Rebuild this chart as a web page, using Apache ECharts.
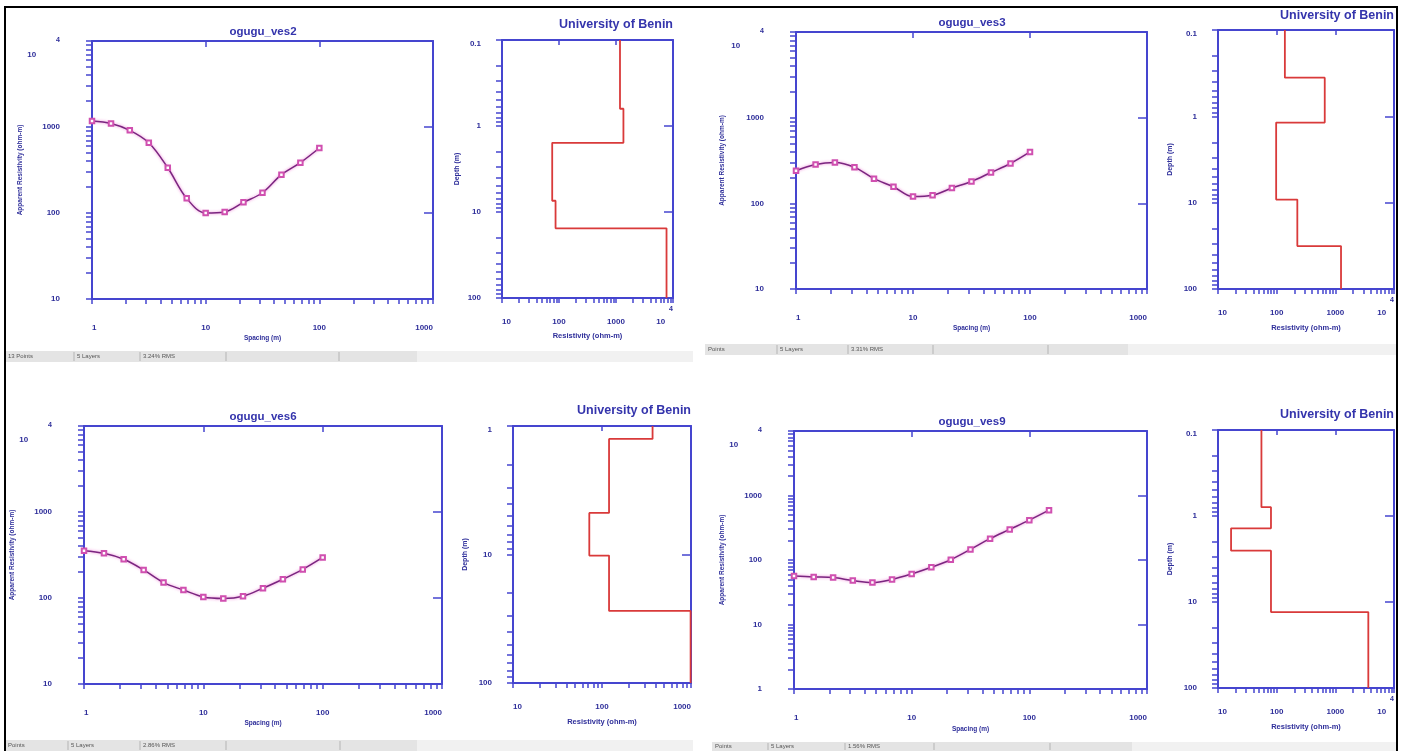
<!DOCTYPE html>
<html>
<head>
<meta charset="utf-8">
<script src="https://cdn.jsdelivr.net/npm/echarts@6/dist/echarts.min.js"></script>
<style>
  html, body { margin: 0; padding: 0; background: #fff; }
  #chart { width: 1405px; height: 751px; }
</style>
</head>
<body>
<div id="chart"></div>
<script>
// electrode spacing AB/2 (m)
const spacing = [1, 1.47, 2.15, 3.16, 4.64, 6.81, 10, 14.7, 21.5, 31.6, 46.4, 68.1, 100];
const spacingVes9 = [1, 1.47, 2.15, 3.16, 4.64, 6.81, 10, 14.7, 21.5, 31.6, 46.4, 68.1, 100, 147];

// apparent resistivity (ohm-m)
const ves2Apparent = [1175, 1100, 915, 656, 336, 148, 100, 103, 133, 172, 279, 385, 570];
const ves3Apparent = [240, 284, 300, 264, 194, 156, 120, 124, 151, 180, 229, 292, 398];
const ves6Apparent = [355, 331, 282, 212, 151, 124, 103, 99, 105, 130, 165, 215, 296];
const ves9Apparent = [56.6, 54.6, 53.4, 47.9, 44.6, 50, 60.8, 77, 101, 146, 214, 298, 415, 593];

// layered models: resistivity of each layer, depth to bottom of each layer (m)
const ves2LayerRho = [1175, 1350, 76, 87, 7700];
const ves2LayerDepth = [0.63, 1.57, 7.4, 15.5];
const ves3LayerRho = [138, 660, 98, 225, 1250];
const ves3LayerDepth = [0.357, 1.18, 9.2, 31.8];
const ves6LayerRho = [370, 120, 72, 120, 990];
const ves6LayerDepth = [1.26, 4.75, 10.2, 27.5];
const ves9LayerRho = [55, 80, 16.7, 80, 3650];
const ves9LayerDepth = [0.79, 1.39, 2.53, 13.1];

const stationNames = ['ogugu_ves2', 'ogugu_ves3', 'ogugu_ves6', 'ogugu_ves9'];
const pointsText = ['13 Points', 'Points', 'Points', 'Points'];
const layersText = ['5 Layers', '5 Layers', '5 Layers', '5 Layers'];
const rmsText = ['3.24% RMS', '3.31% RMS', '2.86% RMS', '1.56% RMS'];

const AX = '#4545cf';
const TXT = '#2e2e9a';
const FONT = '"Liberation Sans", Arial, sans-serif';

// layout of each panel (pixels)
const panels = [
  { x: spacing, y: ves2Apparent, rho: ves2LayerRho, depth: ves2LayerDepth,
    s: { left: 92, top: 41, width: 341, height: 258, yMin: 10, yMax: 10000, titleX: 263, titleY: 32, gapY: 67, gapX: 36 },
    m: { left: 502, top: 40, width: 171, height: 258, xMin: 10, xMax: 10000, yMin: 0.1, yMax: 100, titleY: 25, gapY: 41, gapX: 34 },
    bar: { x: 5, y: 351, w: 688, h: 11, dark: 412, divs: [74, 140, 226, 339] } },
  { x: spacing, y: ves3Apparent, rho: ves3LayerRho, depth: ves3LayerDepth,
    s: { left: 796, top: 32, width: 351, height: 257, yMin: 10, yMax: 10000, titleX: 972, titleY: 23, gapY: 70, gapX: 36 },
    m: { left: 1218, top: 30, width: 176, height: 259, xMin: 10, xMax: 10000, yMin: 0.1, yMax: 100, titleY: 16, gapY: 44, gapX: 35 },
    bar: { x: 705, y: 344, w: 691, h: 11, dark: 423, divs: [777, 848, 933, 1048] } },
  { x: spacing, y: ves6Apparent, rho: ves6LayerRho, depth: ves6LayerDepth,
    s: { left: 84, top: 426, width: 358, height: 258, yMin: 10, yMax: 10000, titleX: 263, titleY: 417, gapY: 61, gapX: 36 },
    m: { left: 513, top: 426, width: 178, height: 257, xMin: 10, xMax: 1000, yMin: 1, yMax: 100, titleY: 411, gapY: 44, gapX: 35 },
    bar: { x: 5, y: 740, w: 688, h: 11, dark: 412, divs: [68, 140, 226, 340] } },
  { x: spacingVes9, y: ves9Apparent, rho: ves9LayerRho, depth: ves9LayerDepth,
    s: { left: 794, top: 431, width: 353, height: 258, yMin: 1, yMax: 10000, titleX: 972, titleY: 422, gapY: 68, gapX: 37 },
    m: { left: 1218, top: 430, width: 176, height: 258, xMin: 10, xMax: 10000, yMin: 0.1, yMax: 100, titleY: 415, gapY: 44, gapX: 35 },
    bar: { x: 712, y: 742, w: 684, h: 9, dark: 420, divs: [768, 845, 934, 1050] } }
];

// log tick positions 1..9 per decade
function logTicks(min, max) {
  const out = [];
  for (let p = Math.round(Math.log10(min)); p < Math.round(Math.log10(max)); p++) {
    for (let k = 1; k < 10; k++) out.push(+(k * Math.pow(10, p)).toPrecision(6));
  }
  out.push(max);
  return out;
}

function stepData(rho, depth, top, bottom) {
  const bounds = [top].concat(depth, [bottom]);
  const pts = [];
  rho.forEach((r, i) => {
    pts.push([r, bounds[i]]);
    pts.push([r, bounds[i + 1]]);
  });
  return pts;
}

const lbl = { color: TXT, fontSize: 8, fontWeight: 'bold', fontFamily: FONT };
const nameStyle = (size) => ({ color: TXT, fontSize: size, fontWeight: 'bold', fontFamily: FONT });
const line = { lineStyle: { color: AX, width: 2 }, onZero: false };

const grid = [], xAxis = [], yAxis = [], series = [], title = [], graphic = [];

panels.forEach((p, i) => {
  const gs = grid.length;
  grid.push({ left: p.s.left, top: p.s.top, width: p.s.width, height: p.s.height, outerBoundsMode: 'none' });
  grid.push({ left: p.m.left, top: p.m.top, width: p.m.width, height: p.m.height, outerBoundsMode: 'none' });
  const gm = gs + 1;

  // ---- sounding curve ----
  const xs = xAxis.length, ys = yAxis.length;
  xAxis.push({
    type: 'log', gridIndex: gs, min: 1, max: 1000, position: 'bottom',
    axisLine: line, splitLine: { show: false },
    axisTick: { customValues: logTicks(1, 1000), length: 5, lineStyle: { color: AX, width: 1.5 } },
    axisLabel: Object.assign({ margin: 25, formatter: v => String(v), alignMinLabel: 'left', alignMaxLabel: 'right' }, lbl),
    name: 'Spacing (m)', nameLocation: 'middle', nameGap: p.s.gapX, nameTextStyle: nameStyle(6.5)
  });
  xAxis.push({
    type: 'log', gridIndex: gs, min: 1, max: 1000, position: 'top',
    axisLine: line, splitLine: { show: false }, axisLabel: { show: false },
    axisTick: { inside: true, length: 6, lineStyle: { color: AX, width: 1.5 } }
  });
  const yMax = p.s.yMax;
  yAxis.push({
    type: 'log', gridIndex: gs, min: p.s.yMin, max: yMax, position: 'left',
    axisLine: line, splitLine: { show: false },
    axisTick: { customValues: logTicks(p.s.yMin, yMax), length: 6, lineStyle: { color: AX, width: 1.5 } },
    axisLabel: Object.assign({
      margin: 32,
      formatter: v => v >= 10000 ? '{m|10}{g|}{s|4}' : '{n|' + v + '}',
      rich: {
        n: Object.assign({}, lbl),
        m: Object.assign({ padding: [28, 0, 0, 0] }, lbl),
        g: { width: 20 },
        s: Object.assign({ padding: [14, 0, 0, 0], verticalAlign: 'top' }, lbl, { fontSize: 7 })
      }
    }, lbl),
    name: 'Apparent Resistivity (ohm-m)', nameLocation: 'middle', nameGap: p.s.gapY, nameTextStyle: nameStyle(6.5)
  });
  yAxis.push({
    type: 'log', gridIndex: gs, min: p.s.yMin, max: yMax, position: 'right',
    axisLine: line, splitLine: { show: false }, axisLabel: { show: false },
    axisTick: { inside: true, length: 9, lineStyle: { color: AX, width: 1.5 } }
  });
  series.push({
    type: 'line', xAxisIndex: xs, yAxisIndex: ys,
    data: p.x.map((v, k) => [v, p.y[k]]),
    smooth: 0.35, symbol: 'emptyRect', symbolSize: 4.5, showSymbol: true,
    lineStyle: { color: '#7a2680', width: 1.5, shadowColor: 'rgba(235,90,200,0.8)', shadowBlur: 3 },
    itemStyle: { color: '#d050b0', borderColor: '#c4489c', borderWidth: 1 },
    silent: true, animation: false
  });
  title.push({
    text: stationNames[i], left: p.s.titleX, top: p.s.titleY, padding: 0,
    textAlign: 'center', textVerticalAlign: 'middle',
    textStyle: { color: '#3434ac', fontSize: 11.5, fontWeight: 'bold', fontFamily: FONT }
  });

  // ---- layered model ----
  const xm = xAxis.length, ym = yAxis.length;
  xAxis.push({
    type: 'log', gridIndex: gm, min: p.m.xMin, max: p.m.xMax, position: 'bottom',
    axisLine: line, splitLine: { show: false },
    axisTick: { customValues: logTicks(p.m.xMin, p.m.xMax), length: 5, lineStyle: { color: AX, width: 1.5 } },
    axisLabel: Object.assign({
      margin: 8, alignMinLabel: 'left', alignMaxLabel: 'right',
      formatter: v => v >= 10000 ? '{n|10}{s|4}' : '{n|' + v + '}',
      rich: {
        n: Object.assign({ padding: [12, 0, 0, 0] }, lbl),
        s: Object.assign({ verticalAlign: 'top', padding: [0, 0, 0, 4] }, lbl, { fontSize: 7 })
      }
    }, lbl),
    name: 'Resistivity (ohm-m)', nameLocation: 'middle', nameGap: p.m.gapX, nameTextStyle: nameStyle(7.5)
  });
  xAxis.push({
    type: 'log', gridIndex: gm, min: p.m.xMin, max: p.m.xMax, position: 'top',
    axisLine: line, splitLine: { show: false }, axisLabel: { show: false },
    axisTick: { inside: true, length: 5, lineStyle: { color: AX, width: 1.5 } }
  });
  yAxis.push({
    type: 'log', gridIndex: gm, min: p.m.yMin, max: p.m.yMax, inverse: true, position: 'left',
    axisLine: line, splitLine: { show: false },
    axisTick: { customValues: logTicks(p.m.yMin, p.m.yMax), length: 6, lineStyle: { color: AX, width: 1.5 } },
    axisLabel: Object.assign({ margin: 21, formatter: v => String(v), verticalAlignMinLabel: 'top' }, lbl),
    name: 'Depth (m)', nameLocation: 'middle', nameGap: p.m.gapY, nameTextStyle: nameStyle(7)
  });
  yAxis.push({
    type: 'log', gridIndex: gm, min: p.m.yMin, max: p.m.yMax, inverse: true, position: 'right',
    axisLine: line, splitLine: { show: false }, axisLabel: { show: false },
    axisTick: { inside: true, length: 9, lineStyle: { color: AX, width: 1.5 } }
  });
  series.push({
    type: 'line', xAxisIndex: xm, yAxisIndex: ym,
    data: stepData(p.rho, p.depth, p.m.yMin, p.m.yMax),
    symbol: 'none', lineStyle: { color: '#d93a3a', width: 1.8 },
    silent: true, animation: false
  });
  title.push({
    text: 'University of Benin', left: p.m.left + p.m.width, top: p.m.titleY, padding: 0,
    textAlign: 'right', textVerticalAlign: 'middle',
    textStyle: { color: '#3434ac', fontSize: 12.5, fontWeight: 'bold', fontFamily: FONT }
  });

  // ---- status bar ----
  const b = p.bar;
  graphic.push({ type: 'rect', shape: { x: b.x, y: b.y, width: b.w, height: b.h }, style: { fill: '#f1f1f1' }, silent: true });
  graphic.push({ type: 'rect', shape: { x: b.x, y: b.y, width: b.dark, height: b.h }, style: { fill: '#e4e4e4' }, silent: true });
  b.divs.forEach(d => graphic.push({
    type: 'line', shape: { x1: d, y1: b.y + 1, x2: d, y2: b.y + b.h - 1 }, style: { stroke: '#b4b4b4', lineWidth: 1 }, silent: true
  }));
  [pointsText[i], layersText[i], rmsText[i]].forEach((t, k) => graphic.push({
    type: 'text', x: (k === 0 ? b.x + 3 : b.divs[k - 1] + 3), y: b.y + b.h / 2,
    style: { text: t, fill: '#555', fontSize: 6, fontFamily: FONT, verticalAlign: 'middle' }, silent: true
  }));
});

// outer frame
graphic.push({
  type: 'polyline', shape: { points: [[5, 751], [5, 7], [1397, 7], [1397, 751]] },
  style: { stroke: '#000', lineWidth: 2, fill: null }, silent: true
});

const chart = echarts.init(document.getElementById('chart'));
chart.setOption({
  backgroundColor: '#fff',
  animation: false,
  title, grid, xAxis, yAxis, series, graphic
});
</script>
</body>
</html>
